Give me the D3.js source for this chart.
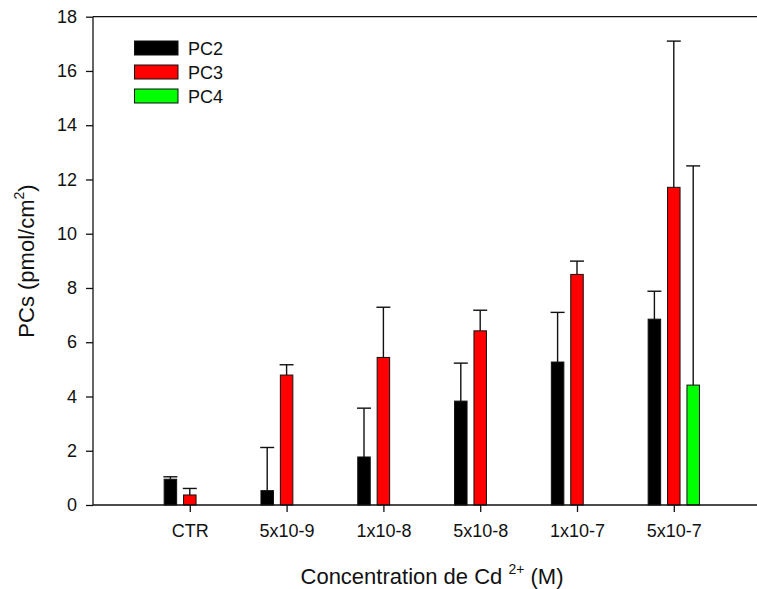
<!DOCTYPE html>
<html>
<head>
<meta charset="utf-8">
<script src="https://cdn.jsdelivr.net/npm/d3@7/dist/d3.min.js"></script>
<style>
  html, body { margin: 0; padding: 0; background: #fff; }
  svg { display: block; font-family: Arial, "Liberation Sans", sans-serif; }
</style>
</head>
<body>
<svg id="chart" width="757" height="589"></svg>
<script>
const categories = ["CTR", "5x10-9", "1x10-8", "5x10-8", "1x10-7", "5x10-7"];
const seriesNames = ["PC2", "PC3", "PC4"];
const seriesColors = ["#000000", "#ff0000", "#00ff00"];
const pc2Values = [0.95, 0.53, 1.77, 3.83, 5.27, 6.85];
const pc2Errors = [0.09, 1.59, 1.80, 1.40, 1.83, 1.03];
const pc3Values = [0.37, 4.79, 5.44, 6.42, 8.50, 11.71];
const pc3Errors = [0.24, 0.38, 1.85, 0.76, 0.49, 5.39];
const pc4Values = [null, null, null, null, null, 4.42];
const pc4Errors = [null, null, null, null, null, 8.08];
const yTicks = [0, 2, 4, 6, 8, 10, 12, 14, 16, 18];

(function () {
const svg = d3.select("#chart");
const mLeft = 93, mTop = 16.7, mBottom = 505, step = 96.8;

const y = d3.scaleLinear().domain([0, 18]).range([mBottom, mTop]);
// category index 0 sits one step right of the axis origin
const x = d3.scaleLinear().domain([-1, 6.85]).range([mLeft, mLeft + step * 7.85]);
const xs = d3.scaleBand().domain(seriesNames).range([-29.1, 29.1])
  .paddingInner(0.356).paddingOuter(0.178);

const seriesData = [
  { name: "PC2", values: pc2Values, errors: pc2Errors },
  { name: "PC3", values: pc3Values, errors: pc3Errors },
  { name: "PC4", values: pc4Values, errors: pc4Errors }
];

const rows = [];
seriesData.forEach((s, si) => {
  s.values.forEach((v, ci) => {
    if (v != null) rows.push({ s: s.name, si, ci, v, e: s.errors[ci] });
  });
});

// error bars (drawn first, the bars cover the lower end)
const eg = svg.append("g");
rows.forEach(d => {
  const cx = x(d.ci) + xs(d.s) + xs.bandwidth() / 2;
  eg.append("line").attr("x1", cx).attr("x2", cx)
    .attr("y1", y(d.v)).attr("y2", y(d.v + d.e))
    .attr("stroke", "#111").attr("stroke-width", 1.4);
  eg.append("line").attr("x1", cx - 7).attr("x2", cx + 7)
    .attr("y1", y(d.v + d.e)).attr("y2", y(d.v + d.e))
    .attr("stroke", "#111").attr("stroke-width", 1.4);
});

// bars
svg.append("g").selectAll("rect").data(rows).join("rect")
  .attr("x", d => x(d.ci) + xs(d.s))
  .attr("y", d => y(d.v))
  .attr("width", xs.bandwidth())
  .attr("height", d => y(0) - y(d.v))
  .attr("fill", d => seriesColors[d.si])
  .attr("stroke", "#111").attr("stroke-width", 1);

// Y axis
const yAxis = d3.axisLeft(y).tickValues(yTicks).tickSize(7).tickPadding(9)
  .tickFormat(d3.format("d"));
const yg = svg.append("g").attr("transform", `translate(${mLeft},0)`).call(yAxis);
yg.select(".domain").attr("d", `M0,${mTop}V${mBottom}`).attr("stroke", "#111").attr("stroke-width", 1.3);
yg.selectAll(".tick line").attr("stroke", "#111").attr("stroke-width", 1.3);
yg.selectAll(".tick text").attr("font-size", "18px").attr("fill", "#111")
  .attr("font-family", "Arial, 'Liberation Sans', sans-serif");

// X axis
const xAxis = d3.axisBottom(x).tickValues(d3.range(categories.length))
  .tickFormat(i => categories[i]).tickSize(7).tickPadding(12);
const xg = svg.append("g").attr("transform", `translate(0,${mBottom})`).call(xAxis);
xg.select(".domain").attr("d", `M${mLeft},0H757`).attr("stroke", "#111").attr("stroke-width", 1.3);
xg.selectAll(".tick line").attr("stroke", "#111").attr("stroke-width", 1.3);
xg.selectAll(".tick text").attr("font-size", "18px").attr("fill", "#111")
  .attr("font-family", "Arial, 'Liberation Sans', sans-serif");

// top frame line
svg.append("line").attr("x1", mLeft).attr("x2", 757).attr("y1", mTop).attr("y2", mTop)
  .attr("stroke", "#111").attr("stroke-width", 1.3);

// Legend
const lg = svg.append("g");
seriesNames.forEach((n, i) => {
  lg.append("rect").attr("x", 134.5).attr("y", 41 + i * 24).attr("width", 43.5).attr("height", 14)
    .attr("fill", seriesColors[i]).attr("stroke", "#111").attr("stroke-width", 1);
  lg.append("text").attr("x", 188).attr("y", 55 + i * 24).attr("font-size", "18px")
    .attr("fill", "#111").text(n);
});

// Axis titles
const xt = svg.append("text").attr("x", 432).attr("y", 584).attr("text-anchor", "middle")
  .attr("font-size", "22px").attr("fill", "#111");
xt.append("tspan").text("Concentration de Cd ");
xt.append("tspan").attr("font-size", "14px").attr("dy", -10).text("2+");
xt.append("tspan").attr("dy", 10).text(" (M)");

const yt = svg.append("text").attr("transform", "translate(34,261) rotate(-90)")
  .attr("text-anchor", "middle").attr("font-size", "22px").attr("fill", "#111");
yt.append("tspan").text("PCs (pmol/cm");
yt.append("tspan").attr("font-size", "14px").attr("dy", -10).text("2");
yt.append("tspan").attr("dy", 10).text(")");
})();
</script>
</body>
</html>
